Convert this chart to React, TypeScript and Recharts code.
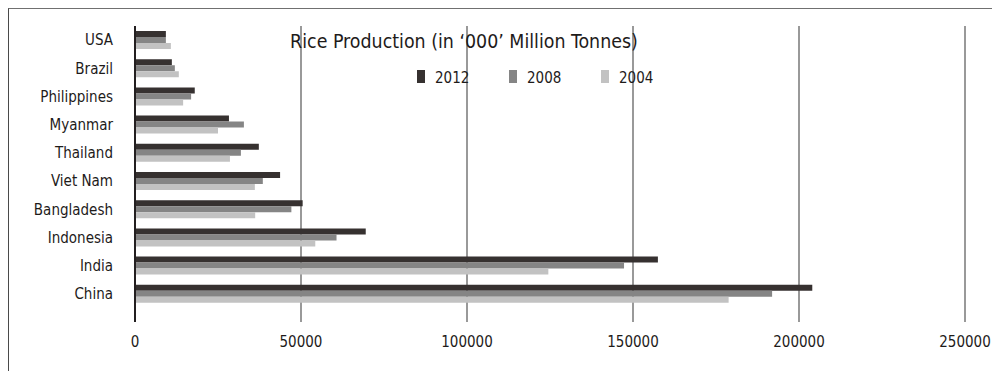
import { BarChart, Bar, XAxis, YAxis, CartesianGrid } from "recharts";

const countries = ["USA", "Brazil", "Philippines", "Myanmar", "Thailand", "Viet Nam", "Bangladesh", "Indonesia", "India", "China"];
const prod2012 = [9300, 11100, 18000, 28300, 37300, 43700, 50500, 69500, 157500, 204000];
const prod2008 = [9300, 12000, 16900, 32800, 31900, 38500, 47100, 60700, 147300, 191900];
const prod2004 = [10800, 13200, 14500, 25000, 28600, 36100, 36200, 54300, 124500, 178800];
const valueTicks = [0, 50000, 100000, 150000, 200000, 250000];

const TITLE = "Rice Production (in \u2018000\u2019 Million Tonnes)";

const SERIES = [
  { key: "y2012", name: "2012", color: "#363130" },
  { key: "y2008", name: "2008", color: "#858585" },
  { key: "y2004", name: "2004", color: "#c2c2c2" },
];

const data = countries.map((name, i) => ({
  name,
  y2012: prod2012[i],
  y2008: prod2008[i],
  y2004: prod2004[i],
}));

const FONT = "'DejaVu Sans Condensed', 'DejaVu Sans', sans-serif";
const TEXT = "#1e1b1a";
const GRID = "#999999";
const AXIS = "#231f20";

const W = 990;
const H = 362;
// tick marks hang below the plot, labels sit under them
const TICK_SIZE = 14;
const TICK_MARGIN = 14;

function ValueTick({ x, y, payload }: any) {
  return (
    <g>
      <line
        x1={x}
        x2={x}
        y1={y - TICK_MARGIN - TICK_SIZE}
        y2={y - TICK_MARGIN}
        stroke={payload.value === 0 ? AXIS : GRID}
        strokeWidth={2}
      />
      <text x={x} y={y} dy="0.71em" textAnchor="middle" fontSize={15} fontFamily={FONT} fill={TEXT}>
        {payload.value}
      </text>
    </g>
  );
}

function Overlay() {
  return (
    <svg width={W} height={H} style={{ position: "absolute", left: 0, top: 0, pointerEvents: "none" }}>
      <text x={455} y={38.5} textAnchor="middle" fontSize={19.4} fontFamily={FONT} fill={TEXT}>
        {TITLE}
      </text>
      {SERIES.map((s, i) => {
        const x = 408 + i * 92;
        return (
          <g key={s.key}>
            <rect x={x} y={61} width={8} height={13} fill={s.color} />
            <text x={x + 18} y={74} fontSize={15} fontFamily={FONT} fill={TEXT}>
              {s.name}
            </text>
          </g>
        );
      })}
    </svg>
  );
}

export default function App() {
  return (
    <div
      style={{
        position: "relative",
        width: W,
        height: H,
        margin: "-1px 0 0 -1px",
        borderTop: "2px solid #707070",
        borderLeft: "2px solid #4a4a4a",
        background: "#fff",
      }}
    >
      <BarChart
        width={W}
        height={H}
        data={data}
        layout="vertical"
        margin={{ top: 17, right: 34, bottom: 23, left: 0 }}
        barSize={6}
        barGap={0}
      >
        <CartesianGrid horizontal={false} stroke={GRID} strokeWidth={2} />
        <XAxis
          type="number"
          domain={[0, 250000]}
          ticks={valueTicks}
          height={40}
          axisLine={false}
          tickLine={false}
          tickSize={TICK_SIZE}
          tickMargin={TICK_MARGIN}
          tick={<ValueTick />}
          interval={0}
        />
        <YAxis
          type="category"
          dataKey="name"
          width={126}
          axisLine={{ stroke: AXIS, strokeWidth: 2 }}
          tickLine={false}
          tickSize={0}
          tickMargin={22}
          interval={0}
          tick={{ fontSize: 15, fontFamily: FONT, fill: TEXT }}
        />
        {SERIES.map((s) => (
          <Bar key={s.key} dataKey={s.key} name={s.name} fill={s.color} isAnimationActive={false} />
        ))}
      </BarChart>
      <Overlay />
    </div>
  );
}
